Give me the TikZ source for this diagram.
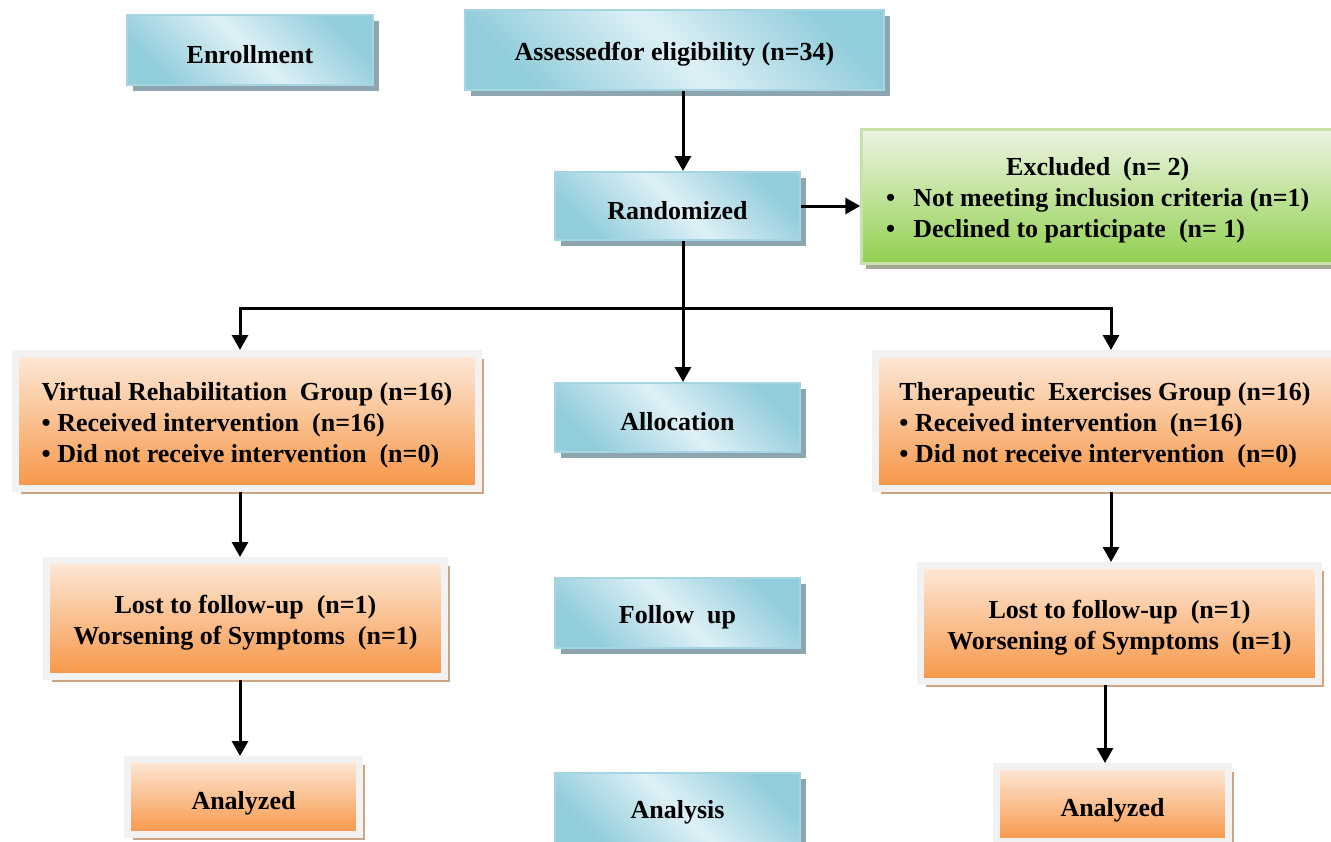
\documentclass[tikz,border=0pt]{standalone}
\usepackage{fontspec}
\setmainfont{Liberation Serif}
\usetikzlibrary{arrows.meta,shadows}
\definecolor{aqualight}{RGB}{222,240,246}
\definecolor{aquadark}{RGB}{146,205,220}
\definecolor{aquaborder}{RGB}{165,213,226}
\definecolor{aquashadow}{RGB}{140,165,175}
\definecolor{greenlight}{RGB}{236,244,226}
\definecolor{greendark}{RGB}{146,208,80}
\definecolor{greenborder}{RGB}{200,224,170}
\definecolor{greenshadow}{RGB}{165,168,150}
\definecolor{orangelight}{RGB}{253,233,217}
\definecolor{orangemid}{RGB}{250,192,144}
\definecolor{orangedark}{RGB}{247,150,70}
\definecolor{framegray}{RGB}{242,242,242}
\definecolor{tanshadow}{RGB}{205,165,130}
\newcommand{\lift}{\rule{0pt}{27pt}}

\begin{document}
\begin{tikzpicture}[x=1pt, y=-1pt,
    every node/.style={font=\fontsize{26}{31}\selectfont\bfseries},
    bluebox/.style={draw=aquaborder, line width=2pt, top color=aquadark, bottom color=aquadark,
        middle color=aqualight, shading angle=-45, minimum width=245pt, minimum height=70pt,
        drop shadow={shadow xshift=6pt, shadow yshift=-6pt, fill=aquashadow, opacity=1}},
    greenbox/.style={draw=greenborder, line width=3pt, top color=greenlight, bottom color=greendark,
        minimum width=472pt, minimum height=134pt,
        drop shadow={shadow xshift=4pt, shadow yshift=-5pt, fill=greenshadow, opacity=1}},
    orangebox/.style={draw=framegray, line width=7pt, top color=orangelight, bottom color=orangedark,
        middle color=orangemid,
        drop shadow={shadow xshift=5pt, shadow yshift=-5pt, fill=tanshadow, opacity=1}},
    arrow/.style={line width=3pt, -{Triangle[length=15pt, width=16pt]}}]

    \useasboundingbox (0,0) rectangle (1331,841);
    \clip (0,0) rectangle (1331,841);

    % Stage labels
    \node[bluebox, minimum width=246pt] (enroll) at (250,50) {\lift Enrollment};
    \node[bluebox, minimum height=69pt] (alloc) at (677.5,417.5) {\lift Allocation};
    \node[bluebox] (follow) at (677.5,613) {\lift Follow\ \ up};
    \node[bluebox] (analysis) at (677.5,808) {\lift Analysis};

    % Screening
    \node[bluebox, minimum width=419pt, minimum height=80pt] (assess) at (674.5,50) {\lift Assessedfor eligibility (n=34)};
    \node[bluebox, minimum height=68pt] (random) at (677.5,206) {\lift Randomized};
    \node[greenbox] (excl) at (1097.75,196.5) {\begin{tabular}{@{}l@{\hspace{18pt}}l@{}}
        \multicolumn{2}{c}{\rule{0pt}{29pt}Excluded\ \ (n= 2)}\\
        \textbullet & Not meeting inclusion criteria (n=1)\\
        \textbullet & Declined to participate\ \ (n= 1)
    \end{tabular}};

    % Groups
    \node[orangebox, minimum width=463pt, minimum height=135pt, align=left] (grp1) at (247,421)
        {\lift Virtual Rehabilitation\ \ Group (n=16)\\ \textbullet\ Received intervention\ \ (n=16)\\ \textbullet\ Did not receive intervention\ \ (n=0)};
    \node[orangebox, minimum width=459pt, minimum height=135pt, align=left] (grp2) at (1105,421)
        {\lift Therapeutic\ \ Exercises Group (n=16)\\ \textbullet\ Received intervention\ \ (n=16)\\ \textbullet\ Did not receive intervention\ \ (n=0)};
    \node[orangebox, minimum width=398pt, minimum height=116pt, align=center] (lost1) at (245.5,618.5)
        {\lift Lost to follow-up\ \ (n=1)\\ Worsening of Symptoms\ \ (n=1)};
    \node[orangebox, minimum width=398pt, minimum height=116pt, align=center] (lost2) at (1119.5,623.5)
        {\lift Lost to follow-up\ \ (n=1)\\ Worsening of Symptoms\ \ (n=1)};
    \node[orangebox, minimum width=232pt, minimum height=75pt] (anal1) at (243.5,797) {\rule{0pt}{31pt}Analyzed};
    \node[orangebox, minimum width=232pt, minimum height=75pt] (anal2) at (1112.5,804) {\rule{0pt}{31pt}Analyzed};

    % Arrows
    \coordinate (mid) at (683,308);
    \coordinate (lbranch) at (240,308);
    \coordinate (rbranch) at (1111,308);
    \draw[arrow] (assess.south -| mid) -- (random.north -| mid);
    \draw[arrow] (random.east) -- (random.east -| excl.west);
    \draw[arrow] (random.south -| mid) -- (alloc.north -| mid);
    \draw[arrow] (mid) -| (grp1.north -| lbranch);
    \draw[arrow] (mid) -| (grp2.north -| rbranch);
    \draw[arrow] (grp1.south -| lbranch) -- (lost1.north -| lbranch);
    \draw[arrow] (lost1.south -| lbranch) -- (anal1.north -| lbranch);
    \draw[arrow] (grp2.south -| rbranch) -- (lost2.north -| rbranch);
    \draw[arrow] (lost2.south -| grp2.center) -- (anal2.north -| grp2.center);
\end{tikzpicture}
\end{document}
